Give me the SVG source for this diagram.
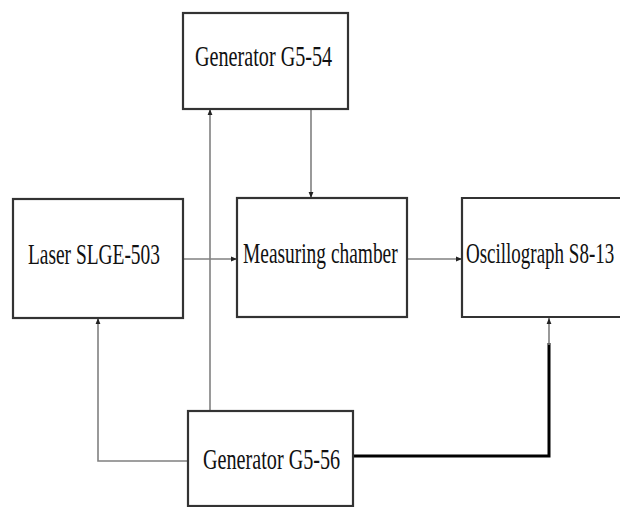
<svg xmlns="http://www.w3.org/2000/svg" width="620" height="507" viewBox="0 0 620 507">
<style>
.box{fill:#fff;stroke:#333;stroke-width:2.2}
.lbl{font-family:"Liberation Serif","Times New Roman",serif;font-size:29px;fill:#111}
.con{fill:none;stroke:#808080;stroke-width:1.6}
.thick{fill:none;stroke:#000;stroke-width:3}
</style>
<defs>
<marker id="ah" viewBox="0 0 10 10" refX="10" refY="5" markerWidth="6" markerHeight="6" markerUnits="userSpaceOnUse" orient="auto">
<path d="M0,1 L10,5 L0,9 z" fill="#222"/>
</marker>
</defs>
<rect width="620" height="507" fill="#fff"/>
<g id="connectors">
<line class="con" x1="183" y1="259" x2="237" y2="259" marker-end="url(#ah)"/>
<line class="con" x1="407" y1="259" x2="462" y2="259" marker-end="url(#ah)"/>
<line class="con" x1="311" y1="109" x2="311" y2="198" marker-end="url(#ah)"/>
<line class="con" x1="210" y1="411" x2="210" y2="109" marker-end="url(#ah)"/>
<path class="con" d="M188,461 H98 V318" marker-end="url(#ah)"/>
<path class="thick" d="M353,456 H549 V343"/>
<line class="con" x1="549" y1="345" x2="549" y2="318" marker-end="url(#ah)"/>
</g>
<g id="gen54">
<rect class="box" x="183" y="13" width="165" height="96"/>
<text class="lbl" transform="translate(195,66) scale(0.65,1)" textLength="211" lengthAdjust="spacingAndGlyphs">Generator  G5-54</text>
</g>
<g id="laser">
<rect class="box" x="13" y="199" width="170" height="119"/>
<text class="lbl" transform="translate(28,264) scale(0.65,1)" textLength="203" lengthAdjust="spacingAndGlyphs">Laser SLGE-503</text>
</g>
<g id="chamber">
<rect class="box" x="237" y="198" width="170" height="119"/>
<text class="lbl" transform="translate(243,263) scale(0.65,1)" textLength="238" lengthAdjust="spacingAndGlyphs">Measuring chamber</text>
</g>
<g id="osc">
<path class="box" d="M620,198 H462 V317 H620"/>
<text class="lbl" transform="translate(466,263) scale(0.65,1)" textLength="228" lengthAdjust="spacingAndGlyphs">Oscillograph S8-13</text>
</g>
<g id="gen56">
<rect class="box" x="188" y="411" width="165" height="95"/>
<text class="lbl" transform="translate(203,469) scale(0.65,1)" textLength="211" lengthAdjust="spacingAndGlyphs">Generator  G5-56</text>
</g>
</svg>
